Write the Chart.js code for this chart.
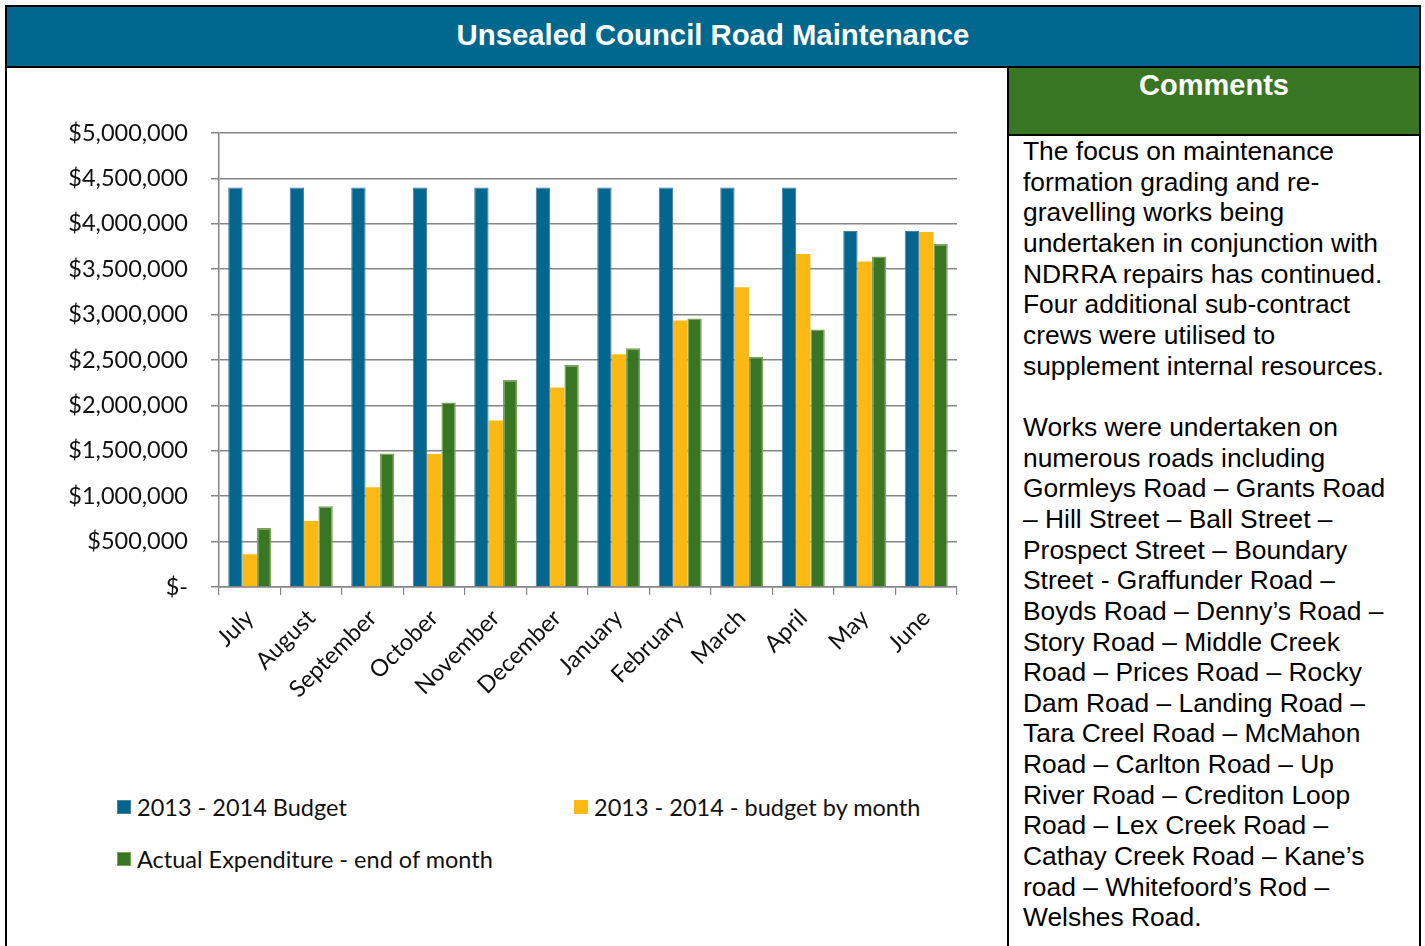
<!DOCTYPE html>
<html>
<head>
<meta charset="utf-8">
<script src="https://cdn.jsdelivr.net/npm/chart.js@4.4.0/dist/chart.umd.min.js"></script>
<style>
  body { margin: 0; background: #fff; width: 1425px; height: 946px; overflow: hidden; position: relative; font-family: "Liberation Sans", Arial, sans-serif; }
  .frame { position: absolute; left: 5px; top: 5px; width: 1416px; height: 950px; border: 2px solid #000; box-sizing: border-box; }
  .titlebar { position: absolute; left: 7px; top: 7px; width: 1412px; height: 59px; background: #00678f; color: #fff; font-weight: bold; font-size: 29.3px; text-align: center; line-height: 55px; border-bottom: 2px solid #000; }
  .comments { position: absolute; left: 1007px; top: 68px; width: 414px; height: 890px; border-left: 2px solid #000; border-right: 2px solid #000; box-sizing: border-box; }
  .comments .head { height: 66px; background: #387623; color: #fff; font-weight: bold; font-size: 29px; text-align: center; line-height: 34px; border-bottom: 2px solid #000; }
  .comments .body { padding: 0 0 0 14px; font-size: 26.4px; line-height: 30.65px; color: #000; white-space: nowrap; }
  #chartBox { position: absolute; left: 7px; top: 68px; width: 1000px; height: 672px; }
  #legend { position: absolute; left: 7px; top: 780px; width: 1000px; height: 120px; font-family: Lato, sans-serif; font-size: 23.5px; color: #111; }
  .item { position: absolute; display: flex; align-items: center; white-space: nowrap; }
  .item span.box { display: inline-block; width: 14px; height: 14px; margin-right: 6px; box-sizing: border-box; border: 1px solid; }
</style>
</head>
<body>
<div class="titlebar">Unsealed Council Road Maintenance</div>
<div class="frame"></div>
<div id="chartBox"><canvas id="myChart"></canvas></div>
<div id="legend"></div>
<div class="comments">
  <div class="head">Comments</div>
  <div class="body">
    The focus on maintenance<br>
    formation grading and re-<br>
    gravelling works being<br>
    undertaken in conjunction with<br>
    NDRRA repairs has continued.<br>
    Four additional sub-contract<br>
    crews were utilised to<br>
    supplement internal resources.<br>
    <br>
    Works were undertaken on<br>
    numerous roads including<br>
    Gormleys Road – Grants Road<br>
    – Hill Street – Ball Street –<br>
    Prospect Street – Boundary<br>
    Street - Graffunder Road –<br>
    Boyds Road – Denny’s Road –<br>
    Story Road – Middle Creek<br>
    Road – Prices Road – Rocky<br>
    Dam Road – Landing Road –<br>
    Tara Creel Road – McMahon<br>
    Road – Carlton Road – Up<br>
    River Road – Crediton Loop<br>
    Road – Lex Creek Road –<br>
    Cathay Creek Road – Kane’s<br>
    road – Whitefoord’s Rod –<br>
    Welshes Road.
  </div>
</div>
<script>
// Meses del año financiero
var months = ["July", "August", "September", "October", "November", "December",
  "January", "February", "March", "April", "May", "June"];

// Valores
var budgetYear = [4400000, 4400000, 4400000, 4400000, 4400000, 4400000,
  4400000, 4400000, 4400000, 4400000, 3920000, 3920000];
var budgetByMonth = [360000, 727000, 1098000, 1465000, 1833000, 2196000,
  2563000, 2934000, 3301000, 3667000, 3584000, 3910000];
var actualSpend = [650000, 889000, 1469000, 2031000, 2280000, 2445000,
  2629000, 2956000, 2537000, 2835000, 3639000, 3778000];

var seriesNames = ["2013 - 2014 Budget", "2013 - 2014 - budget by month", "Actual Expenditure - end of month"];

var gridColor = "#868686";
var tickFont = { family: "Lato", size: 23.5 };

var ctx = document.getElementById("myChart").getContext("2d");
var chart = new Chart(ctx, {
  type: "bar",
  data: {
    labels: months,
    datasets: [
      {
        label: seriesNames[0],
        data: budgetYear,
        backgroundColor: "#02668f",
        borderColor: "#4d7ea3",
        borderWidth: 1,
      },
      {
        label: seriesNames[1],
        data: budgetByMonth,
        backgroundColor: "#fdb913",
        borderColor: "#fdb913",
        borderWidth: 0,
      },
      {
        label: seriesNames[2],
        data: actualSpend,
        backgroundColor: "#387623",
        borderColor: "#7fa25a",
        borderWidth: 1.5,
      },
    ],
  },
  options: {
    responsive: true,
    maintainAspectRatio: false,
    animation: false,
    categoryPercentage: 0.7,
    barPercentage: 1.0,
    layout: { padding: { top: 65, right: 50, left: 0, bottom: 0 } },
    plugins: {
      legend: { display: false },
      tooltip: { enabled: false },
    },
    scales: {
      x: {
        afterFit: function (s) { s.height = 153; },
        grid: { drawOnChartArea: false, drawTicks: true, tickLength: 8, color: gridColor, lineWidth: 1.2 },
        border: { color: gridColor, width: 1.5 },
        ticks: { minRotation: 45, maxRotation: 45, autoSkip: false, padding: 9, color: "#111", font: tickFont },
      },
      y: {
        min: 0,
        max: 5000000,
        afterFit: function (s) { s.width = 212; },
        grid: { color: gridColor, lineWidth: 1.5, tickLength: 8 },
        border: { color: gridColor, width: 1.5 },
        ticks: {
          stepSize: 500000,
          padding: 23,
          color: "#111",
          font: tickFont,
          callback: function (v) {
            return v === 0 ? "$-" : "$" + v.toLocaleString("en-US");
          },
        },
      },
    },
  },
});

// Leyenda en dos columnas como el original
var legendPos = [[110, 28], [567, 28], [110, 80]];
var legendBox = document.getElementById("legend");
chart.data.datasets.forEach(function (ds, i) {
  var el = document.createElement("div");
  el.className = "item";
  el.style.left = legendPos[i][0] + "px";
  el.style.top = (legendPos[i][1] - 15) + "px";
  el.innerHTML = '<span class="box" style="background:' + ds.backgroundColor +
    ';border-color:' + ds.borderColor + '"></span>' + ds.label;
  legendBox.appendChild(el);
});
</script>
</body>
</html>
